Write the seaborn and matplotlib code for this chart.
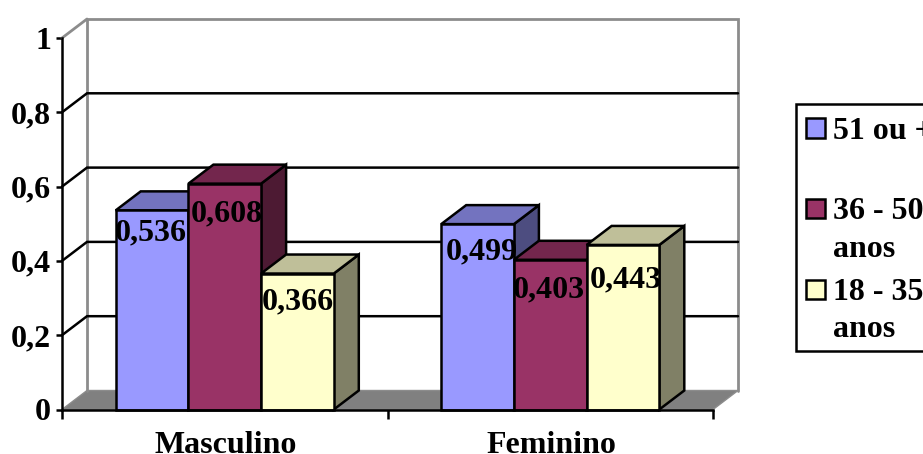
import matplotlib
matplotlib.use("Agg")
import matplotlib.pyplot as plt
from matplotlib.colors import to_rgb
from matplotlib.legend_handler import HandlerPatch
from matplotlib.patches import Polygon, Rectangle
import pandas as pd
import seaborn as sns

# Chart values
categories = ["Masculino", "Feminino"]
series_names = ["51 ou +\n ", "36 - 50\nanos", "18 - 35\nanos"]
values_51_plus = [0.536, 0.499]
values_36_50 = [0.608, 0.403]
values_18_35 = [0.366, 0.443]
y_ticks = [0, 0.2, 0.4, 0.6, 0.8, 1]
y_tick_labels = ["0", "0,2", "0,4", "0,6", "0,8", "1"]

# Styling
series_colors = ["#9999FF", "#993366", "#FFFFCC"]
FLOOR = "#808080"
WALL = "#8C8C8C"
LW = 1.8
FONT_SIZE = 23
DEPTH_PX = (25, 19)
# Pixel nudges of the value labels, per series then category
label_nudges = [[(-1, -22.5), (4, -27.5)],
                [(2.5, -30.5), (-1, -30.5)],
                [(0.5, -28.5), (3, -34.5)]]

sns.set_style("white")
plt.rcParams["font.family"] = ["Liberation Serif", "DejaVu Serif"]
plt.rcParams["font.weight"] = "bold"
plt.rcParams["text.color"] = "black"
plt.rcParams["xtick.labelcolor"] = "black"
plt.rcParams["ytick.labelcolor"] = "black"

W, H = 923, 454
fig = plt.figure(figsize=(W / 100, H / 100), dpi=100)
ax = fig.add_axes([62 / W, 1 - 409.5 / H, (713 - 62) / W, (409.5 - 38) / H])
ax.patch.set_alpha(0)

frame = pd.DataFrame({
    "sexo": categories * 3,
    "idade": [n for n in series_names for _ in categories],
    "valor": values_51_plus + values_36_50 + values_18_35,
})
sns.barplot(data=frame, x="sexo", y="valor", hue="idade", order=categories,
            hue_order=series_names, palette=series_colors, width=0.67, gap=0,
            saturation=1, edgecolor="black", linewidth=LW, ax=ax, legend=True)

ax.set_xlim(-0.5, 1.5)
ax.set_ylim(0, 1)
ax.set_xlabel("")
ax.set_ylabel("")

# Depth of the 3D projection, in data units
ppx = 1 / (713 - 62) * 2
ppy = 1 / (409.5 - 38)
dx, dy = DEPTH_PX[0] * ppx, DEPTH_PX[1] * ppy
x0, x1 = ax.get_xlim()


def face(points, color, z, edge="black", lw=LW):
    ax.add_patch(Polygon(points, closed=True, facecolor=color, edgecolor=edge,
                         linewidth=lw, zorder=z, clip_on=False,
                         joinstyle="miter"))


def shade(color, factor):
    return tuple(c * factor for c in to_rgb(color))


# Floor and back walls
face([(x0, 0), (x0 + dx, dy), (x1 + dx, dy), (x1, 0)], FLOOR, 1, edge=WALL, lw=1)
ax.plot([x0 + dx, x0 + dx, x1 + dx, x1 + dx], [dy, 1 + dy, 1 + dy, dy],
        color=WALL, lw=2, zorder=1.5, clip_on=False, solid_joinstyle="miter")
ax.plot([x0, x0 + dx], [1, 1 + dy], color=WALL, lw=2, zorder=1.5, clip_on=False)

# Gridlines run up the left wall and then across the back
for tick in y_ticks[1:-1]:
    ax.plot([x0, x0 + dx, x1 + dx], [tick, tick + dy, tick + dy], color="black",
            lw=LW, zorder=2, clip_on=False, solid_joinstyle="miter")

# Extrude every bar: left to right so nearer faces overlap correctly
z = 3
n_cat = len(categories)
for cat in range(n_cat):
    for s, container in enumerate(ax.containers):
        bar = container[cat]
        left, right = bar.get_x(), bar.get_x() + bar.get_width()
        top = bar.get_height()
        color = series_colors[s]
        face([(right, 0), (right + dx, dy), (right + dx, top + dy), (right, top)],
             shade(color, 0.5), z)
        face([(left, top), (left + dx, top + dy), (right + dx, top + dy), (right, top)],
             shade(color, 0.75), z)
        bar.set_zorder(z + 0.5)
        bar.set_clip_on(False)
        bar.set_joinstyle("miter")
        z += 1
        ax.annotate(f"{top:.3f}".replace(".", ","),
                    xy=((left + right) / 2, top), xycoords="data",
                    xytext=(label_nudges[s][cat][0] * 0.72, label_nudges[s][cat][1] * 0.72),
                    textcoords="offset points", ha="center", va="center",
                    fontsize=FONT_SIZE, fontweight="bold", color="black", zorder=50)

# Axes and ticks
for side in ("top", "right"):
    ax.spines[side].set_visible(False)
for side in ("left", "bottom"):
    ax.spines[side].set_linewidth(LW)
    ax.spines[side].set_color("black")
    ax.spines[side].set_zorder(40)
ax.set_yticks(y_ticks, y_tick_labels)
ax.set_xticks([x0, 0.5 * (x0 + x1), x1], minor=False, labels=["", "", ""])
for i, name in enumerate(categories):
    ax.annotate(name, xy=(i, 0), xycoords="data", xytext=(0.7, -43.5 * 0.72),
                textcoords="offset points", ha="center", va="baseline",
                fontsize=FONT_SIZE, fontweight="bold", annotation_clip=False)
ax.tick_params(axis="y", length=4, width=LW, pad=3.8, labelsize=FONT_SIZE, left=True, color="black")
ax.tick_params(axis="x", length=6.5, width=LW, bottom=True, color="black")
ax.grid(False)


def square(legend, orig_handle, xdescent, ydescent, width, height, fontsize):
    return Rectangle((-xdescent, -ydescent), width, 0.6 * fontsize)


# Legend runs off the right edge of the canvas; swatches sit on the first text line
handles, labels = ax.get_legend_handles_labels()
legend = ax.legend(handles, labels, loc="upper left",
                   bbox_to_anchor=(796 / W, 1 - 104 / H), bbox_transform=fig.transFigure,
                   frameon=True, fancybox=False, framealpha=1, edgecolor="black",
                   prop={"size": FONT_SIZE, "weight": "bold"}, handlelength=0.62,
                   handleheight=0.6, handletextpad=0.22, labelspacing=0.44,
                   borderpad=0.3, borderaxespad=0,
                   handler_map={Rectangle: HandlerPatch(patch_func=square, ypad=0.6)})
legend.get_frame().set_linewidth(LW)
for text in legend.get_texts():
    text.set_linespacing(1.39)
    text.set_position((1, -3))

fig.savefig("out.png", dpi=100, facecolor="white")
